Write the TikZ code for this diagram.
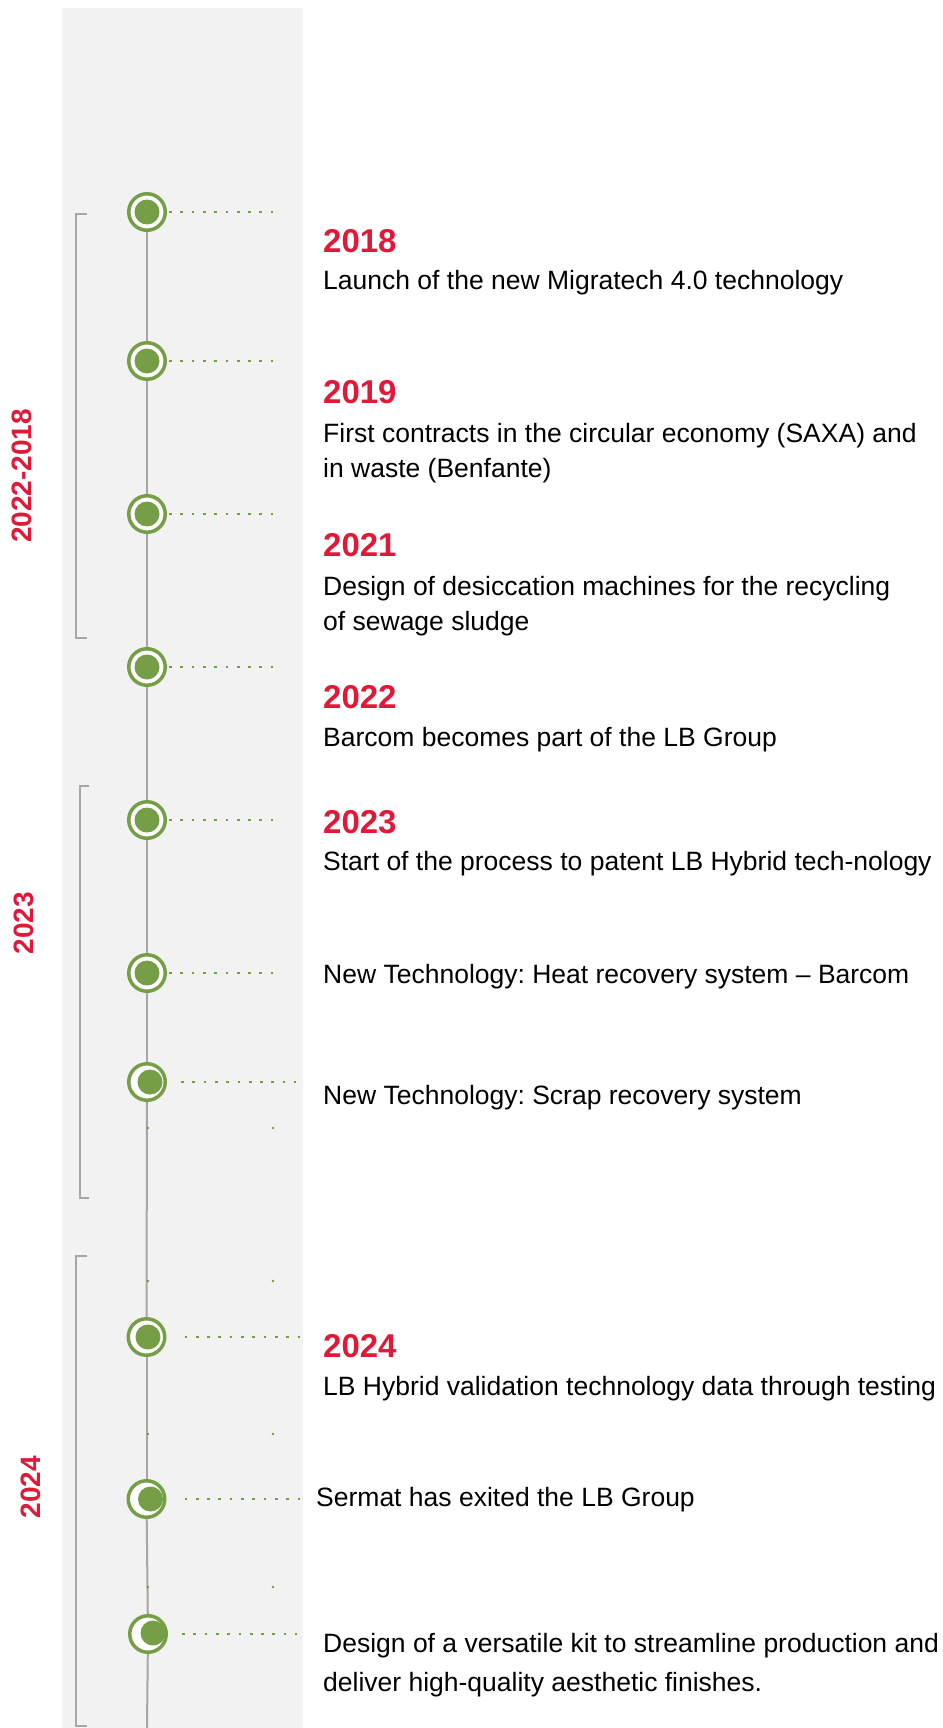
\documentclass[tikz,border=0pt]{standalone}
\usepackage{fontspec}
\setmainfont{Liberation Sans}
\frenchspacing
\definecolor{lbgreen}{RGB}{118,158,70}
\definecolor{lbred}{RGB}{226,24,56}
\definecolor{lbgray}{RGB}{166,166,166}
\definecolor{lbpanel}{RGB}{242,242,242}
\tikzset{
  ring/.style={circle, draw=lbgreen, line width=3.5pt, fill=white, minimum size=36.5pt, inner sep=0pt},
  blob/.style={circle, fill=lbgreen, minimum size=25pt, inner sep=0pt},
  speck/.style={circle, fill=lbgreen, minimum size=2.8pt, inner sep=0pt},
  dots/.style={lbgreen, line width=2.7pt, dash pattern=on 2.7pt off 8.6pt},
  axisline/.style={lbgray, line width=2pt},
  bracket/.style={lbgray, line width=2pt},
  yearlbl/.style={anchor=base west, inner sep=0pt, text=lbred, font=\bfseries\fontsize{33}{33}\selectfont},
  bodytxt/.style={anchor=base west, inner sep=0pt, align=left, font=\fontsize{26.5}{35}\selectfont},
  periodlbl/.style={rotate=90, inner sep=0pt, text=lbred, font=\bfseries\fontsize{28}{28}\selectfont},
}
\begin{document}
\begin{tikzpicture}[x=1pt,y=-1pt]
\useasboundingbox (0,0) rectangle (942,1728);
\fill[lbpanel] (62,8) rectangle (303,1728);
\node[ring] (c1) at (147,212){};
\node[ring] (c2) at (147,361){};
\node[ring] (c3) at (147,514){};
\node[ring] (c4) at (147,667){};
\node[ring] (c5) at (147,820){};
\node[ring] (c6) at (147,973){};
\node[ring] (c7) at (147,1082){};
\node[ring] (c8) at (146.5,1337){};
\node[ring] (c9) at (146.5,1499){};
\node[ring] (c10) at (148,1634){};
\coordinate (tlend) at (147,1728);
\draw[axisline](c1) -- (c2);
\draw[axisline](c2) -- (c3);
\draw[axisline](c3) -- (c4);
\draw[axisline](c4) -- (c5);
\draw[axisline](c5) -- (c6);
\draw[axisline](c6) -- (c7);
\draw[axisline](c7) -- (c8);
\draw[axisline](c8) -- (c9);
\draw[axisline](c9) -- (c10);
\draw[axisline](c10) -- (tlend);
\node[blob] (b1) at (147,212){};
\node[blob] (b2) at (147,361){};
\node[blob] (b3) at (147,514){};
\node[blob] (b4) at (147,667){};
\node[blob] (b5) at (147,820){};
\node[blob] (b6) at (147,973){};
\node[blob] (b7) at (150,1082){};
\node[blob] (b8) at (148,1337){};
\node[blob] (b9) at (150.5,1499){};
\node[blob] (b10) at (153,1633){};
\coordinate (e1) at (276,212);
\coordinate (e2) at (276,361);
\coordinate (e3) at (276,514);
\coordinate (e4) at (276,667);
\coordinate (e5) at (276,820);
\coordinate (e6) at (276,973);
\coordinate (e7) at (296,1082);
\coordinate (e8) at (302,1337);
\coordinate (e9) at (302,1499);
\coordinate (e10) at (297,1634);
\draw[dots, shorten <=2pt](c1) -- (e1);
\draw[dots, shorten <=2pt](c2) -- (e2);
\draw[dots, shorten <=2pt](c3) -- (e3);
\draw[dots, shorten <=2pt](c4) -- (e4);
\draw[dots, shorten <=2pt](c5) -- (e5);
\draw[dots, shorten <=2pt](c6) -- (e6);
\draw[dots, shorten <=14pt](c7) -- (e7);
\draw[dots, shorten <=18pt](c8) -- (e8);
\draw[dots, shorten <=18pt](c9) -- (e9);
\draw[dots, shorten <=14pt](c10) -- (e10);
\node[speck] (s1a) at (148,1128){};
\node[speck] (s1b) at (273,1128){};
\node[speck] (s2a) at (148,1281){};
\node[speck] (s2b) at (273,1281){};
\node[speck] (s3a) at (148,1434){};
\node[speck] (s3b) at (273,1434){};
\node[speck] (s4a) at (148,1587){};
\node[speck] (s4b) at (273,1587){};
\coordinate (k1a) at (87,214);
\coordinate (k1b) at (76,214);
\coordinate (k1c) at (76,638);
\coordinate (k1d) at (87,638);
\draw[bracket](k1a) -- (k1b) -- (k1c) -- (k1d);
\coordinate (k2a) at (89,786);
\coordinate (k2b) at (80,786);
\coordinate (k2c) at (80,1198);
\coordinate (k2d) at (89,1198);
\draw[bracket](k2a) -- (k2b) -- (k2c) -- (k2d);
\coordinate (k3a) at (87,1256);
\coordinate (k3b) at (76,1256);
\coordinate (k3c) at (76,1726);
\coordinate (k3d) at (87,1726);
\draw[bracket](k3a) -- (k3b) -- (k3c) -- (k3d);
\node[periodlbl] (p1) at (22,476){2022-2018};
\node[periodlbl] (p2) at (24,923){2023};
\node[periodlbl] (p3) at (31,1487){2024};
\node[yearlbl] (y2018) at (323,252){2018};
\node[bodytxt] (t2018) at (323,289){Launch of the new Migratech 4.0 technology};
\node[yearlbl] (y2019) at (323,403){2019};
\node[bodytxt] (t2019) at (323,477){First contracts in the circular economy (SAXA) and\\in waste (Benfante)};
\node[yearlbl] (y2021) at (323,556){2021};
\node[bodytxt] (t2021) at (323,630){Design of desiccation machines for the recycling\\of sewage sludge};
\node[yearlbl] (y2022) at (323,708){2022};
\node[bodytxt] (t2022) at (323,746){Barcom becomes part of the LB Group};
\node[yearlbl] (y2023) at (323,833){2023};
\node[bodytxt] (t2023) at (323,870){Start of the process to patent LB Hybrid tech-nology};
\node[bodytxt] (theat) at (323,983){New Technology: Heat recovery system -- Barcom};
\node[bodytxt] (tscrap) at (323,1104){New Technology: Scrap recovery system};
\node[yearlbl] (y2024) at (323,1357){2024};
\node[bodytxt] (t2024) at (323,1395){LB Hybrid validation technology data through testing};
\node[bodytxt] (tsermat) at (316,1506){Sermat has exited the LB Group};
\node[bodytxt, font=\fontsize{26.5}{39}\selectfont] (tkit) at (323,1691){Design of a versatile kit to streamline production and\\deliver high-quality aesthetic finishes.};
\end{tikzpicture}
\end{document}
